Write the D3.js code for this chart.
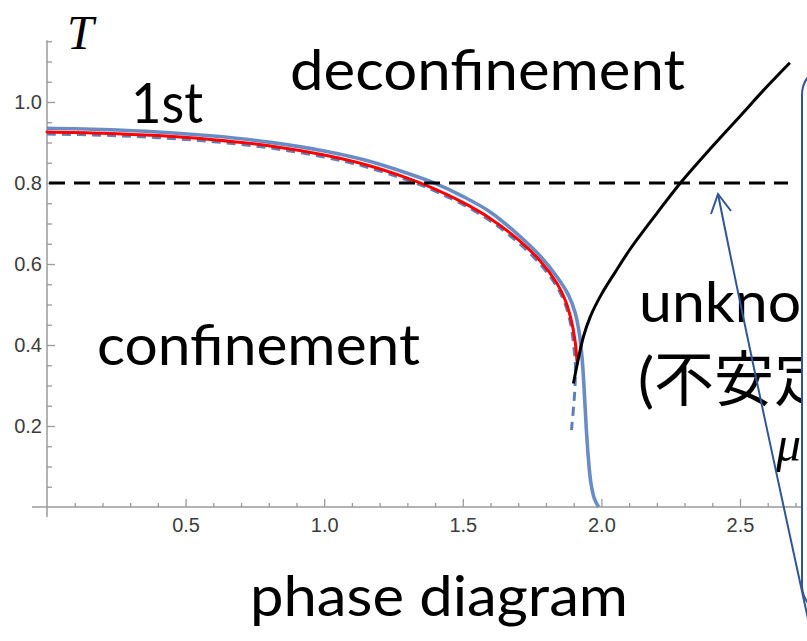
<!DOCTYPE html>
<html>
<head>
<meta charset="utf-8">
<script src="https://cdn.jsdelivr.net/npm/d3@7"></script>
<style>
  html, body { margin: 0; padding: 0; background: #fff; }
  svg { display: block; }
</style>
</head>
<body>
<svg id="chart" width="807" height="641"></svg>
<script>
// Phase boundary T(mu) curves
const redLine = [
  [0, 0.926], [0.2, 0.923], [0.4, 0.917], [0.6, 0.907], [0.8, 0.892], [1.0, 0.869],
  [1.15, 0.845], [1.3, 0.812], [1.4, 0.785], [1.5, 0.752], [1.6, 0.712], [1.7, 0.660],
  [1.78, 0.607], [1.84, 0.552], [1.87, 0.51], [1.89, 0.465], [1.905, 0.41], [1.912, 0.36]
];
const blueSolid = [
  [0, 0.935], [0.2, 0.932], [0.4, 0.926], [0.6, 0.916], [0.8, 0.901], [1.0, 0.879],
  [1.15, 0.856], [1.3, 0.824], [1.4, 0.799], [1.5, 0.767], [1.6, 0.728], [1.7, 0.672],
  [1.78, 0.619], [1.84, 0.568], [1.88, 0.525], [1.905, 0.48], [1.92, 0.43], [1.93, 0.37],
  [1.937, 0.30], [1.945, 0.20], [1.953, 0.12], [1.962, 0.06], [1.975, 0.02], [1.99, 0.0]
];
const blueDashed = [
  [0, 0.921], [0.2, 0.918], [0.4, 0.912], [0.6, 0.902], [0.8, 0.887], [1.0, 0.864],
  [1.15, 0.840], [1.3, 0.807], [1.4, 0.780], [1.5, 0.747], [1.6, 0.706], [1.7, 0.653],
  [1.78, 0.599], [1.84, 0.543], [1.87, 0.50], [1.888, 0.455], [1.9, 0.40], [1.906, 0.35],
  [1.905, 0.30], [1.9, 0.25], [1.892, 0.19]
];
const blackLine = [
  [1.899, 0.305], [1.915, 0.36], [1.935, 0.42], [1.96, 0.47], [2.0, 0.525], [2.05, 0.58],
  [2.104, 0.637], [2.2, 0.725], [2.285, 0.80], [2.4, 0.89], [2.5, 0.965], [2.6, 1.04], [2.68, 1.097]
];
const referenceT = 0.8;

// Axis ticks
const xMajorTicks = [0.5, 1.0, 1.5, 2.0, 2.5];
const xMinorTicks = [0.1, 0.2, 0.3, 0.4, 0.6, 0.7, 0.8, 0.9, 1.1, 1.2, 1.3, 1.4, 1.6, 1.7, 1.8, 1.9, 2.1, 2.2, 2.3, 2.4, 2.6, 2.7];
const yMajorTicks = [0.2, 0.4, 0.6, 0.8, 1.0];
const yMinorTicks = [0.05, 0.1, 0.15, 0.25, 0.3, 0.35, 0.45, 0.5, 0.55, 0.65, 0.7, 0.75, 0.85, 0.9, 0.95, 1.05, 1.1, 1.15];
const xTickLabels = ["0.5", "1.0", "1.5", "2.0", "2.5"];
const yTickLabels = ["0.2", "0.4", "0.6", "0.8", "1.0"];

const svg = d3.select("#chart");
svg.append("rect").attr("width", 807).attr("height", 641).attr("fill", "#fff");

const x = d3.scaleLinear().domain([0, 2.5]).range([47, 740]);
const y = d3.scaleLinear().domain([0, 1]).range([507, 102]);

const axisColor = "#9a9a9a";
const labelColor = "#3c3c3c";

// Axis lines (Mathematica-style, slightly overshooting the origin)
svg.append("line")
  .attr("x1", x(0) - 15).attr("x2", 812)
  .attr("y1", y(0)).attr("y2", y(0))
  .attr("stroke", axisColor).attr("stroke-width", 1.5);
svg.append("line")
  .attr("x1", x(0)).attr("x2", x(0))
  .attr("y1", y(0) + 10).attr("y2", y(1.15) - 1)
  .attr("stroke", axisColor).attr("stroke-width", 1.5);

// x axis ticks pointing inward
const gx = svg.append("g").attr("transform", `translate(0,${y(0)})`);
gx.call(d3.axisBottom(x).tickValues(xMinorTicks).tickSizeInner(-4).tickSizeOuter(0).tickFormat(""));
gx.call(g => g.select(".domain").remove());
const gx2 = svg.append("g").attr("transform", `translate(0,${y(0)})`);
gx2.call(d3.axisBottom(x).tickValues(xMajorTicks).tickSizeInner(-8).tickSizeOuter(0)
  .tickPadding(11).tickFormat((d, i) => xTickLabels[i]));
gx2.call(g => g.select(".domain").remove());

// y axis ticks pointing inward
const gy = svg.append("g").attr("transform", `translate(${x(0)},0)`);
gy.call(d3.axisLeft(y).tickValues(yMinorTicks).tickSizeInner(-5).tickSizeOuter(0).tickFormat(""));
gy.call(g => g.select(".domain").remove());
const gy2 = svg.append("g").attr("transform", `translate(${x(0)},0)`);
gy2.call(d3.axisLeft(y).tickValues(yMajorTicks).tickSizeInner(-8).tickSizeOuter(0)
  .tickPadding(5).tickFormat((d, i) => yTickLabels[i]));
gy2.call(g => g.select(".domain").remove());

svg.selectAll(".tick line").attr("stroke", axisColor).attr("stroke-width", 1.3);
svg.selectAll(".tick text")
  .attr("fill", labelColor)
  .attr("font-family", "'Liberation Sans', Arial, sans-serif")
  .attr("font-size", 20);

// Curves
const line = d3.line().x(d => x(d[0])).y(d => y(d[1])).curve(d3.curveCatmullRom.alpha(0.5));

svg.append("path").datum(blueSolid).attr("d", line)
  .attr("fill", "none").attr("stroke", "#6a8cc6").attr("stroke-width", 3.6)
  .attr("stroke-linejoin", "round");
svg.append("path").datum(blueDashed).attr("d", line)
  .attr("fill", "none").attr("stroke", "#5e81b5").attr("stroke-width", 3)
  .attr("stroke-dasharray", "9,6");
svg.append("path").datum(redLine).attr("d", line)
  .attr("fill", "none").attr("stroke", "#ff0000").attr("stroke-width", 3)
  .attr("stroke-linecap", "round");
svg.append("path").datum(blackLine).attr("d", line)
  .attr("fill", "none").attr("stroke", "#000").attr("stroke-width", 3)
  .attr("stroke-linecap", "butt");

// Dashed reference temperature
svg.append("line")
  .attr("x1", x(0) + 2).attr("x2", 788)
  .attr("y1", y(referenceT)).attr("y2", y(referenceT))
  .attr("stroke", "#000").attr("stroke-width", 3)
  .attr("stroke-dasharray", "16,9");

// Axis labels
svg.append("text").text("T")
  .attr("x", 67).attr("y", 49)
  .attr("font-family", "'Liberation Serif', 'Times New Roman', serif")
  .attr("font-style", "italic").attr("font-size", 48).attr("fill", "#000");

// Region annotations
const sans = "Lato, 'Noto Sans CJK JP', sans-serif";
svg.append("text").text("1st")
  .attr("x", 131).attr("y", 123)
  .attr("font-family", sans).attr("font-size", 56).attr("fill", "#000")
  .attr("textLength", 72).attr("lengthAdjust", "spacingAndGlyphs");
svg.append("text").text("deconfinement")
  .attr("x", 290).attr("y", 90)
  .attr("font-family", sans).attr("font-size", 56).attr("fill", "#000")
  .attr("textLength", 395).attr("lengthAdjust", "spacingAndGlyphs");
svg.append("text").text("confinement")
  .attr("x", 97).attr("y", 365)
  .attr("font-family", sans).attr("font-size", 56).attr("fill", "#000")
  .attr("textLength", 323).attr("lengthAdjust", "spacingAndGlyphs");
svg.append("text").text("unknown")
  .attr("x", 639).attr("y", 322)
  .attr("font-family", sans).attr("font-size", 56).attr("fill", "#000")
  .attr("textLength", 241).attr("lengthAdjust", "spacingAndGlyphs");
svg.append("text").text("(不安定)")
  .attr("x", 638).attr("y", 401)
  .attr("font-family", sans).attr("font-size", 60).attr("fill", "#000");
svg.append("text").text("μ")
  .attr("x", 776).attr("y", 461)
  .attr("font-family", "'Liberation Serif', 'Times New Roman', serif")
  .attr("font-style", "italic").attr("font-size", 50).attr("fill", "#000");
svg.append("text").text("phase diagram")
  .attr("x", 250).attr("y", 616)
  .attr("font-family", sans).attr("font-size", 56).attr("fill", "#000")
  .attr("textLength", 378).attr("lengthAdjust", "spacingAndGlyphs");

// Callout box on the right edge
const calloutColor = "#2f5597";
svg.append("rect")
  .attr("x", 802).attr("y", 65).attr("width", 80).attr("height", 550)
  .attr("rx", 30).attr("ry", 30)
  .attr("fill", "#fff").attr("stroke", calloutColor).attr("stroke-width", 2);

// Arrow pointing at the dashed line
const tip = [718, 194];
svg.append("path")
  .attr("d", `M810,628 Q745,330 ${tip[0]},${tip[1]}`)
  .attr("fill", "none").attr("stroke", calloutColor).attr("stroke-width", 2);
svg.append("path")
  .attr("d", `M711,214 L${tip[0]},${tip[1]} L731,211`)
  .attr("fill", "none").attr("stroke", calloutColor).attr("stroke-width", 2)
  .attr("stroke-linejoin", "miter");
</script>
</body>
</html>
